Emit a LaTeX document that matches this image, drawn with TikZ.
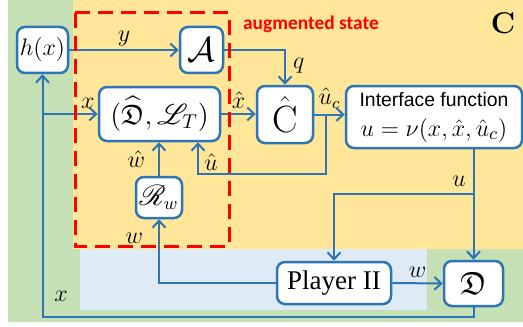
\documentclass[tikz,border=0pt]{standalone}
\usepackage{amsmath,amssymb}
\usepackage{mathrsfs}
\usepackage{fontspec}
\newfontfamily\arialf{Liberation Sans}
\newfontfamily\timesf{Liberation Serif}
\newfontfamily\calibrif{Carlito}
\usetikzlibrary{arrows.meta,calc}
\definecolor{lnblue}{RGB}{46,117,182}
\definecolor{bggreen}{RGB}{197,224,180}
\definecolor{bgyellow}{RGB}{255,230,153}
\definecolor{bgblue}{RGB}{222,235,247}
\definecolor{redd}{RGB}{255,0,0}
\newcommand{\fs}[1]{\fontsize{#1}{#1}\selectfont}
\begin{document}
\begin{tikzpicture}[x=0.5pt,y=-0.5pt,
  blk/.style={draw=lnblue,line width=1.25pt,fill=white,rounded corners=4pt,inner sep=0pt},
  arr/.style={draw=lnblue,line width=1pt,-{Straight Barb[length=3.5pt,width=6.5pt,line width=1pt]}},
  lab/.style={font=\fs{12}, inner sep=1.5pt}]
\useasboundingbox (0,0) rectangle (523,326);
% backgrounds
\fill[bggreen] (8,0) rectangle (523,322);
\fill[bgyellow] (73,0) rectangle (523,249);
\fill[bgblue] (80,249) rectangle (427,310);
% nodes
\node[blk,minimum width=25.5pt,minimum height=23pt,font=\fs{12.5}] (h) at (42.5,50) {$h(x)$};
\node[blk,minimum width=21.5pt,minimum height=23pt,font=\fs{19}] (A) at (201.5,50) {$\mathcal{A}$};
\node[blk,minimum width=60.5pt,minimum height=27pt,font=\fs{14}] (DL) at (159.5,114) {$(\widehat{\mathfrak{D}},\mathscr{L}_T)$};
\node[blk,minimum width=28pt,minimum height=28.5pt,font=\fs{19}] (C) at (285,114.5) {$\hat{\mathrm{C}}$};
\node[blk,minimum width=88pt,minimum height=31pt,align=center] (I) at (434,117) {{\arialf\fs{9.7}Interface function}\\[3pt]{\fs{12.5}$u=\nu(x,\hat{x},\hat{u}_c)$}};
\node[blk,minimum width=23pt,minimum height=20.5pt,font=\fs{13.5}] (R) at (159,197.5) {$\mathscr{R}_w$};
\node[blk,minimum width=57pt,minimum height=21pt,font=\timesf\fs{13.5}] (P) at (334,283) {Player II};
\node[blk,minimum width=29.5pt,minimum height=22.5pt,font=\fs{16}] (D) at (473.5,283.5) {$\mathfrak{D}$};
% texts
\node[font=\calibrif\bfseries\fs{9.7},text=redd] (aug) at (311,24) {augmented state};
\node[font=\bfseries\fs{15}] (Cl) at (503,23) {C};
% connectors
\draw[arr] (h.east) -- (A.west) node[lab,midway,above] {$y$};
\draw[arr] (A.east) -| (C.north) node[lab,pos=0.72,right=2pt] {$q$};
\draw[arr] (DL.east) -- (DL.east -| C.west) node[lab,midway,above=1pt] {$\hat{x}$};
\draw[arr] (C.east) -- (C.east -| I.west) node[lab,midway,above=1pt] {$\hat{u}_c$};
\coordinate (b1) at (326,114.5);
\coordinate (fb) at (198,174);
\draw[arr] (b1) |- (fb) -- (fb |- DL.south);
\node[lab] (uh) at (211,162) {$\hat{u}$};
\draw[arr] (R.north) -- (R.north |- DL.south) node[lab,midway,left=5pt] {$\hat{w}$};
\draw[arr] (P.west) -| (R.south) node[lab,pos=0.85,left=6pt] {$w$};
\coordinate (iu) at (I.south -| D.north);
\draw[arr] (iu) -- (D.north);
\node[lab] (ul) at (459,181) {$u$};
\coordinate (br) at (473.5,194);
\draw[arr] (br) -| (P.north);
\draw[arr] (P.east) -- (D.west) node[lab,midway,above=1pt] {$w$};
\coordinate (db) at (473.5,317);
\draw[arr] (D.south) -- (db) -| (h.south);
\node[lab] (xl) at (61,296) {$x$};
\coordinate (bx) at (h.south |- DL.west);
\draw[arr] (bx) -- (DL.west) node[lab,pos=0.82,above=1pt] {$x$};
% red dashed
\draw[redd,line width=1.5pt,dash pattern=on 7.5pt off 4pt] (75,13) rectangle (229,246);
\end{tikzpicture}
\end{document}
